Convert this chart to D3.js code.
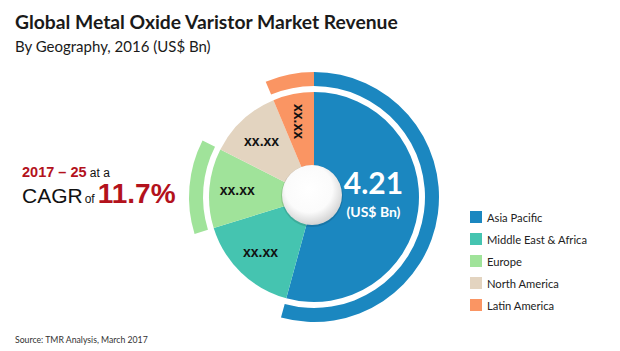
<!DOCTYPE html>
<html>
<head>
<meta charset="utf-8">
<script src="https://cdn.jsdelivr.net/npm/d3@7"></script>
<style>
  body { margin: 0; background: #fff; }
  svg { display: block; }
</style>
</head>
<body>
<div id="chart"></div>
<script>
let width = 620;
let height = 351;

// data (only Asia Pacific is printed, the rest)
let regions = ["Asia Pacific", "Middle East & Africa", "Europe", "North America", "Latin America"];
let revenue = [4.21, 1.24, 0.95, 0.87, 0.49];
let sliceLabels = ["4.21", "xx.xx", "xx.xx", "xx.xx", "xx.xx"];
let colors = ["#1b87c0", "#45c4b0", "#a0e39a", "#e3d4c0", "#fa9563"];
let outerRing = [true, false, true, false, true];

let cx = 314, cy = 197;
let pieR = 105, ringIn = 111, ringOut = 125, labelR = 77;

let svg = d3.select("#chart")
  .append("svg")
    .attr("width", width)
    .attr("height", height);

let defs = svg.append("defs");
let grad = defs.append("radialGradient").attr("id", "holeGrad")
    .attr("cx", "45%").attr("cy", "40%").attr("r", "60%");
grad.append("stop").attr("offset", "0%").attr("stop-color", "#ffffff");
grad.append("stop").attr("offset", "65%").attr("stop-color", "#fbfbfb");
grad.append("stop").attr("offset", "100%").attr("stop-color", "#d4d4d4");

// title
svg.append("text")
    .attr("x", 15).attr("y", 29)
    .attr("font-family", "Lato, 'Open Sans', sans-serif")
    .attr("font-weight", "bold")
    .attr("font-size", 19.3)
    .attr("fill", "#1a1a1a")
    .text("Global Metal Oxide Varistor Market Revenue");

svg.append("text")
    .attr("x", 15).attr("y", 52)
    .attr("font-family", "Lato, 'Open Sans', sans-serif")
    .attr("font-size", 15)
    .attr("fill", "#1a1a1a")
    .text("By Geography, 2016 (US$ Bn)");

// pie
let pie = d3.pie().sort(null).value(d => d)(revenue);

let arc = d3.arc().innerRadius(0).outerRadius(pieR);
let ring = d3.arc().innerRadius(ringIn).outerRadius(ringOut);
let labelArc = d3.arc().innerRadius(labelR).outerRadius(labelR);

let g = svg.append("g").attr("transform", "translate(" + cx + "," + cy + ")");

g.selectAll(".slice").data(pie).enter()
  .append("path")
    .attr("class", "slice")
    .attr("d", arc)
    .attr("fill", (d, i) => colors[i]);

g.selectAll(".ring").data(pie.filter((d, i) => outerRing[i])).enter()
  .append("path")
    .attr("class", "ring")
    .attr("d", ring)
    .attr("fill", d => colors[d.index]);

// slice labels (all but the big one)
g.selectAll(".slabel").data(pie.filter(d => d.index > 0)).enter()
  .append("text")
    .attr("class", "slabel")
    .attr("transform", function(d) {
      let c = labelArc.centroid(d);
      let rot = d.index == 4 ? 90 : 0;
      return "translate(" + c[0] + "," + c[1] + ") rotate(" + rot + ")";
    })
    .attr("text-anchor", "middle")
    .attr("dy", "0.35em")
    .attr("font-family", "Arial, 'Liberation Sans', sans-serif")
    .attr("font-weight", "bold")
    .attr("font-size", 14)
    .attr("fill", "#111")
    .text(d => sliceLabels[d.index]);

// big label on Asia Pacific
let bigArc = d3.arc().innerRadius(60).outerRadius(60);
let bc = bigArc.centroid(pie[0]);
g.append("text")
    .attr("x", bc[0]).attr("y", bc[1] - 11)
    .attr("text-anchor", "middle")
    .attr("font-family", "Lato, 'Open Sans', sans-serif")
    .attr("font-weight", "bold")
    .attr("font-size", 30)
    .attr("fill", "#fff")
    .text(sliceLabels[0]);
g.append("text")
    .attr("x", bc[0]).attr("y", bc[1] + 12)
    .attr("text-anchor", "middle")
    .attr("font-family", "Lato, 'Open Sans', sans-serif")
    .attr("font-weight", "bold")
    .attr("font-size", 14)
    .attr("fill", "#fff")
    .text("(US$ Bn)");

// hole
g.append("circle")
    .attr("cx", -2).attr("cy", -1).attr("r", 31)
    .attr("fill", "#000").attr("opacity", 0.12);
g.append("circle")
    .attr("cx", -2).attr("cy", -2).attr("r", 30)
    .attr("fill", "url(#holeGrad)");

// CAGR text
let cagr = svg.append("text")
    .attr("x", 22).attr("y", 177)
    .attr("font-family", "Arial, 'Liberation Sans', sans-serif");
cagr.append("tspan").attr("font-weight", "bold").attr("font-size", 14.5).attr("fill", "#b3121c").text("2017 \u2013 25");
cagr.append("tspan").attr("font-size", 12).attr("fill", "#111").text(" at a");

let cagr2 = svg.append("text")
    .attr("x", 22).attr("y", 203)
    .attr("font-family", "Arial, 'Liberation Sans', sans-serif");
cagr2.append("tspan").attr("font-size", 21).attr("fill", "#111").text("CAGR");
cagr2.append("tspan").attr("font-size", 12).attr("fill", "#111").attr("dx", 2).text("of");
cagr2.append("tspan").attr("font-weight", "bold").attr("font-size", 28).attr("fill", "#b3121c").attr("dx", 3).text("11.7%");

// legend
let legend = svg.selectAll(".legend").data(regions).enter()
  .append("g")
    .attr("class", "legend")
    .attr("transform", (d, i) => "translate(470," + (211 + i * 22) + ")");

legend.append("rect")
    .attr("width", 12).attr("height", 12)
    .attr("fill", (d, i) => colors[i]);

legend.append("text")
    .attr("x", 17).attr("y", 10.5)
    .attr("font-family", "Lato, 'Open Sans', sans-serif")
    .attr("font-size", 11.2)
    .attr("fill", "#222")
    .text(d => d);

// source
svg.append("text")
    .attr("x", 15).attr("y", 343)
    .attr("font-family", "Lato, 'Open Sans', sans-serif")
    .attr("font-size", 8.7)
    .attr("fill", "#333")
    .text("Source: TMR Analysis, March 2017");
</script>
</body>
</html>
